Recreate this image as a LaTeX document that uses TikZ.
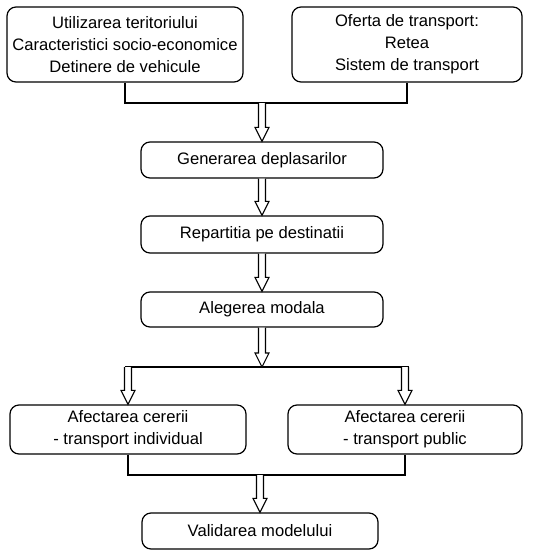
\documentclass[tikz,border=0pt]{standalone}
\usepackage{fontspec}
\setmainfont{Liberation Sans}
\usetikzlibrary{calc}

% hollow arrow between two points, pointing down
\newcommand{\hollowarrow}[2]{%
  \filldraw[fill=white, line width=1.1pt, line join=miter]
    ($(#1)+(-3.5,0)$) -- ($(#2)+(-3.5,-14)$) -- ($(#2)+(-7,-14)$) -- (#2)
    -- ($(#2)+(7,-14)$) -- ($(#2)+(3.5,-14)$) -- ($(#1)+(3.5,0)$);
}

\tikzset{
  stage/.style={draw, line width=1.2pt, rounded corners=9pt, align=center,
    font=\fontsize{16.6}{22}\selectfont, inner sep=0pt},
  link/.style={line width=2.2pt}
}

\begin{document}
\begin{tikzpicture}[x=1pt, y=-1pt]

\useasboundingbox (0,0) rectangle (534,550);

% Inputs
\node[stage, minimum width=236pt, minimum height=75pt] (land) at (125,44.5)
  {Utilizarea teritoriului\\Caracteristici socio-economice\\Detinere de vehicule};
\node[stage, minimum width=230pt, minimum height=75pt] (supply) at (407,44.5)
  {Oferta de transport:\\Retea\\Sistem de transport};

% Four steps
\node[stage, minimum width=242pt, minimum height=36pt] (gen) at (262,160)
  {Generarea deplasarilor};
\node[stage, minimum width=242pt, minimum height=37pt] (dist) at (262,234.5)
  {Repartitia pe destinatii};
\node[stage, minimum width=242pt, minimum height=35pt] (modal) at (262,309.5)
  {Alegerea modala};
\node[stage, minimum width=236pt, minimum height=49pt] (indiv) at (128,429.5)
  {Afectarea cererii\\- transport individual};
\node[stage, minimum width=234pt, minimum height=49pt] (public) at (405,429.5)
  {Afectarea cererii\\- transport public};
\node[stage, minimum width=236pt, minimum height=36pt] (valid) at (260,531)
  {Validarea modelului};

% Junction points
\coordinate (join) at (262,103);
\coordinate (split) at (262,367);
\coordinate (merge) at (260,475);

% Join of the inputs
\draw[link] (land.south) |- (join) -| (supply.south);
\hollowarrow{join}{gen.north}
\hollowarrow{gen.south}{dist.north}
\hollowarrow{dist.south}{modal.north}

% Split towards assignment
\coordinate (splitL) at (indiv.north |- split);
\coordinate (splitR) at (public.north |- split);
\draw[link] ($(splitL)+(-3.5,0)$) -- ($(splitR)+(3.5,0)$);
\hollowarrow{modal.south}{split}
\hollowarrow{splitL}{indiv.north}
\hollowarrow{splitR}{public.north}

% Merge towards validation
\draw[link] (indiv.south) |- (merge) -| (public.south);
\hollowarrow{merge}{valid.north}

\end{tikzpicture}
\end{document}
